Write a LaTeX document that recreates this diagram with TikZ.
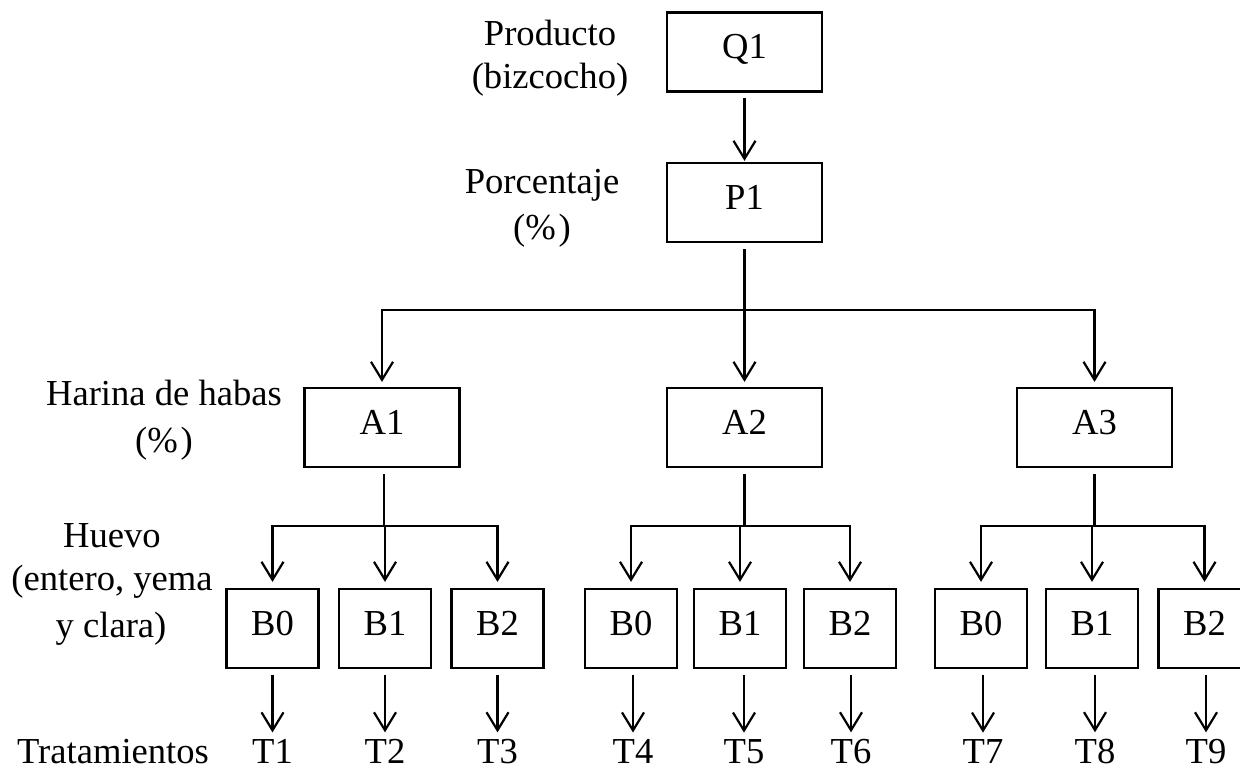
\documentclass[tikz,border=0pt]{standalone}
\usepackage{fontspec}
\setmainfont{Liberation Serif}
\usetikzlibrary{arrows.meta}
\begin{document}
\begin{tikzpicture}[x=0.5pt,y=-0.5pt,
  every node/.style={font=\fontsize{18.3pt}{22pt}\selectfont},
  box/.style={draw, line width=1.1pt, inner sep=0pt, minimum height=39.5pt, text height=12.8pt, text depth=5.8pt},
  bigbox/.style={box, minimum width=77.5pt},
  smallbox/.style={box, minimum width=46pt},
  lbl/.style={anchor=base, inner sep=0pt},
  tlbl/.style={anchor=base, inner sep=0pt},
  conn/.style={line width=1.1pt},
  arr/.style={conn, -{Straight Barb[length=9pt,width=11pt]}}
]
\useasboundingbox (0,0) rectangle (1240,769);
\clip (0,0) rectangle (1240,769);

% boxes
\node[bigbox] (Q1) at (744.5,52) {Q1};
\node[bigbox] (P1) at (744.5,202.5) {P1};
\node[bigbox] (A1) at (382,427.5) {A1};
\node[bigbox] (A2) at (744.5,427.5) {A2};
\node[bigbox] (A3) at (1094.5,427.5) {A3};

\node[smallbox] (B0a) at (272.5,628.5) {B0};
\node[smallbox] (B1a) at (385,628.5) {B1};
\node[smallbox] (B2a) at (497.5,628.5) {B2};
\node[smallbox] (B0b) at (631,628.5) {B0};
\node[smallbox] (B1b) at (740,628.5) {B1};
\node[smallbox] (B2b) at (850,628.5) {B2};
\node[smallbox] (B0c) at (981,628.5) {B0};
\node[smallbox] (B1c) at (1092,628.5) {B1};
\node[smallbox] (B2c) at (1204.5,628.5) {B2};

% treatment labels
\node[tlbl] (T1) at (272.5,763) {T1};
\node[tlbl] (T2) at (385,763) {T2};
\node[tlbl] (T3) at (497.5,763) {T3};
\node[tlbl] (T4) at (633,763) {T4};
\node[tlbl] (T5) at (744,763) {T5};
\node[tlbl] (T6) at (851,763) {T6};
\node[tlbl] (T7) at (983,763) {T7};
\node[tlbl] (T8) at (1095,763) {T8};
\node[tlbl] (T9) at (1206,763) {T9};

% side labels
\node[lbl] (lq1) at (550,46) {Producto};
\node[lbl] (lq2) at (550,89) {(bizcocho)};
\node[lbl] (lp1) at (542,194) {Porcentaje};
\node[lbl] (lp2) at (542,240) {(\%\kern1.5pt)};
\node[lbl] (la1) at (164,406) {Harina de habas};
\node[lbl] (la2) at (164,452) {(\%\kern1.5pt)};
\node[lbl] (lb1) at (112,547) {Huevo};
\node[lbl] (lb2) at (112,590) {(entero, yema};
\node[lbl] (lb3) at (111,637) {y clara)};
\node[lbl] (lt) at (113,763) {Tratamientos};

% junctions
\coordinate (jP) at (744.5,310);
\coordinate (jA1) at (384,526);
\coordinate (jA2) at (744.5,526);
\coordinate (jA3) at (1094.5,526);

% connectors
\draw[arr, shorten <=2.5pt, shorten >=0.5pt] (Q1) -- (P1);
\draw[conn, shorten <=3pt] (P1) -- (jP);
\draw[arr, shorten >=2.5pt] (jP) -| (A1);
\draw[arr, shorten >=2.5pt] (jP) -- (A2);
\draw[arr, shorten >=2.5pt] (jP) -| (A3);

\draw[conn, shorten <=3pt] (A1.south -| jA1) -- (jA1);
\draw[conn, shorten <=3pt] (A2) -- (jA2);
\draw[conn, shorten <=3pt] (A3) -- (jA3);

\foreach \j/\b in {jA1/B0a, jA1/B1a, jA1/B2a, jA2/B0b, jA2/B1b, jA2/B2b, jA3/B0c, jA3/B1c, jA3/B2c}
  \draw[arr, shorten >=3pt] (\j) -| (\b);

\foreach \b/\t in {B0a/T1, B1a/T2, B2a/T3, B0b/T4, B1b/T5, B2b/T6, B0c/T7, B1c/T8, B2c/T9}
  \draw[arr, shorten <=3pt, shorten >=3pt] (\b.south -| \t) -- (\t.north);
\end{tikzpicture}
\end{document}
